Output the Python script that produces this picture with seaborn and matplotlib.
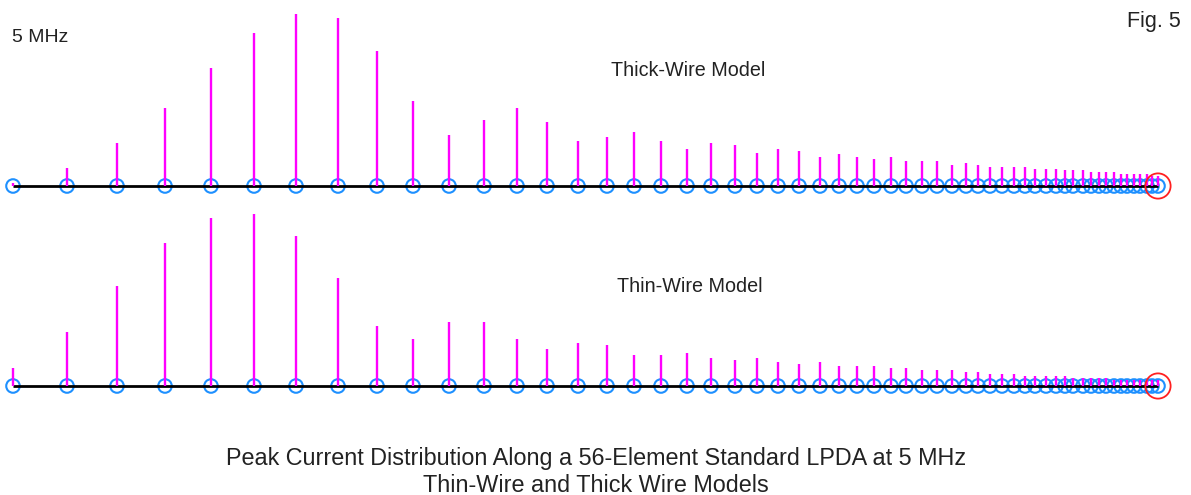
import matplotlib
matplotlib.use('Agg')
import matplotlib.pyplot as plt
import seaborn as sns

# --- Data: element positions along the boom and peak current (relative units) ---
positions = [13, 67, 117, 165, 211, 254, 296, 338, 377, 413,
             449, 484, 517, 547, 578, 607, 634, 661, 687, 711,
             735, 757, 778, 799, 820, 839, 857, 874, 891, 906,
             922, 937, 952, 966, 978, 990, 1002, 1014, 1025, 1035,
             1046, 1056, 1065, 1073, 1083, 1091, 1099, 1106, 1114, 1121,
             1127, 1134, 1140, 1147, 1152, 1158]

thick_wire = [3, 18, 43, 78, 118, 153, 172, 168, 135, 85,
              51, 66, 78, 64, 45, 49, 54, 45, 37, 43,
              41, 33, 37, 35, 29, 32, 29, 27, 29, 25,
              25, 25, 21, 23, 21, 19, 19, 19, 19, 17,
              17, 17, 16, 16, 16, 14, 14, 14, 14, 12,
              12, 12, 12, 12, 10, 10]

thin_wire = [18, 54, 100, 143, 168, 172, 150, 108, 60, 47,
             64, 64, 47, 37, 43, 41, 31, 31, 33, 28,
             26, 28, 24, 22, 24, 20, 20, 20, 18, 18,
             16, 16, 16, 14, 14, 12, 12, 12, 10, 10,
             10, 10, 10, 8, 8, 8, 8, 8, 6, 6,
             6, 6, 6, 6, 6, 6]

# --- Style ---
sns.set_theme(style='white')
plt.rcParams['font.family'] = ['Liberation Sans', 'DejaVu Sans']
txt_color = '#222222'
stem_color = '#ff00ff'
circ_color = '#1e90ff'

W, H = 1191, 495
fig = plt.figure(figsize=(W / 100, H / 100), dpi=100)
fig.patch.set_facecolor('white')


def draw_row(ax, currents):
    sns.scatterplot(x=positions, y=[0] * len(positions), ax=ax, marker='o', s=95,
                    facecolors='none', edgecolors=circ_color, linewidth=1.5, zorder=2)
    ax.hlines(0, positions[0], positions[-1], color='black', linewidth=2, zorder=3)
    ax.vlines(positions, 0, currents, color=stem_color, linewidth=1.7, zorder=4)
    # feed point marker
    sns.scatterplot(x=[positions[-1]], y=[0], ax=ax, marker='o', s=330,
                    facecolors='none', edgecolors='#ff2020', linewidth=1.3, zorder=5)
    ax.set_xlim(0, W)
    ax.set_ylim(-14, 186)
    ax.axis('off')


# top row: baseline near pixel 186, bottom row: baseline near pixel 386
ax_top = fig.add_axes([0, 1 - 200 / H, 1, 200 / H])
ax_bot = fig.add_axes([0, 1 - 400 / H, 1, 200 / H])
draw_row(ax_top, thick_wire)
draw_row(ax_bot, thin_wire)

# --- Texts ---
fig.text(12 / W, 1 - 37 / H, "5 MHz", ha='left', va='center', fontsize=14, color=txt_color)
fig.text(1181 / W, 1 - 22 / H, "Fig. 5", ha='right', va='center', fontsize=15.5, color=txt_color)
fig.text(688 / W, 1 - 70 / H, "Thick-Wire Model", ha='center', va='center', fontsize=14.2, color=txt_color)
fig.text(690 / W, 1 - 286 / H, "Thin-Wire Model", ha='center', va='center', fontsize=14.2, color=txt_color)
fig.text(596 / W, 1 - 458 / H, "Peak Current Distribution Along a 56-Element Standard LPDA at 5 MHz",
         ha='center', va='center', fontsize=16.8, color=txt_color)
fig.text(596 / W, 1 - 485 / H, "Thin-Wire and Thick Wire Models",
         ha='center', va='center', fontsize=16.8, color=txt_color)

fig.savefig('out.png', dpi=100, facecolor='white')
